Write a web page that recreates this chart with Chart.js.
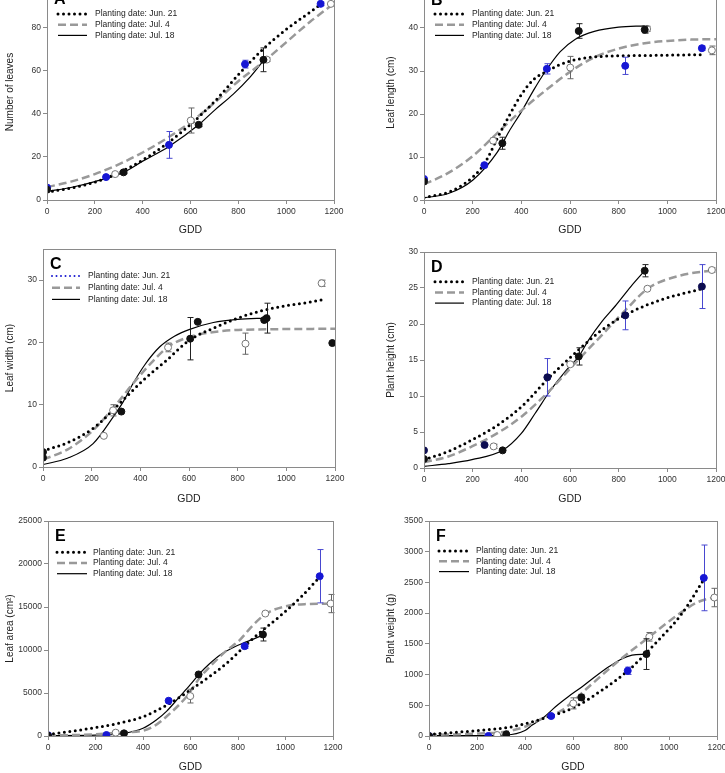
<!DOCTYPE html>
<html>
<head>
<meta charset="utf-8">
<script src="https://cdn.jsdelivr.net/npm/chart.js@4.4.1/dist/chart.umd.min.js"></script>
<style>
  html, body { margin: 0; padding: 0; background: #fff; }
  body { width: 725px; height: 773px; position: relative; overflow: hidden; }
  canvas { position: absolute; }
</style>
</head>
<body>
<script>
// legend text and x axis
const plantingDates = ['Planting date: Jun. 21', 'Planting date: Jul. 4', 'Planting date: Jul. 18'];
const gddTicks = [0, 200, 400, 600, 800, 1000, 1200];

// measured points: [GDD, mean, error]
// A - number of leaves
const leavesJun21 = [[0, 5.8, 0], [247, 10.6, 0.6], [510, 25.5, 6.2], [828, 62.9, 1.8], [1144, 90.8, 0.8]];
const leavesJul4 = [[0, 5.5, 0], [285, 12, 0.5], [601, 36.8, 5.8], [919, 65, 0.8], [1187, 90.8, 0.8]];
const leavesJul18 = [[0, 4.8, 0], [320, 12.8, 0.6], [634, 34.8, 0.8], [905, 64.9, 5.5]];
const leavesFitJun21 = [[0, 3.7], [100, 5.5], [200, 8.3], [300, 12.6], [400, 18.5], [500, 26], [600, 35], [700, 45.5], [800, 58], [900, 69.5], [1000, 79], [1100, 87], [1144, 90.6]];
const leavesFitJul4 = [[0, 6], [100, 8.5], [200, 12], [300, 16.5], [400, 22], [500, 28.5], [600, 36], [700, 45], [800, 55], [900, 63.5], [1000, 73], [1100, 82.5], [1200, 91]];
const leavesFitJul18 = [[0, 4], [100, 5.8], [200, 8.5], [320, 12.8], [400, 18], [510, 24.8], [634, 34.8], [700, 41.5], [779, 49], [850, 57], [905, 64.5]];

// B - leaf length
const lengthJun21 = [[0, 4.9, 0], [248, 8.1, 0.4], [505, 30.5, 1.2], [827, 31.2, 2], [1142, 35.3, 0.5]];
const lengthJul4 = [[0, 4.5, 0], [284, 13.8, 0.6], [601, 30.8, 2.6], [917, 39.8, 0.6], [1183, 34.8, 1]];
const lengthJul18 = [[0, 4.3, 0], [322, 13.2, 1.4], [636, 39.3, 1.7], [907, 39.6, 0.8]];
const lengthFitJun21 = [[0, 0.6], [100, 1.8], [150, 3.2], [200, 5.3], [250, 8.6], [300, 14.2], [350, 19.6], [400, 24.5], [450, 28], [500, 29.8], [560, 31.5], [620, 32.6], [730, 33.4], [900, 33.6], [1136, 33.8]];
const lengthFitJul4 = [[0, 3.6], [100, 6.3], [200, 10.2], [300, 15.5], [400, 20.8], [500, 25.5], [600, 29.8], [700, 33.2], [800, 35.2], [900, 36.4], [1000, 37], [1100, 37.3], [1200, 37.4]];
const lengthFitJul18 = [[0, 0.5], [100, 1.5], [200, 4.6], [300, 11], [350, 16], [400, 20.5], [450, 25.5], [500, 30], [560, 34.5], [622, 37.4], [700, 39.2], [800, 40.2], [907, 40.5]];

// C - leaf width
const widthJun21 = [[250, 5.0, 0], [288, 9.1, 0.9], [514, 19.2, 0.7], [832, 19.8, 1.7], [1145, 29.5, 0.5]];
const widthJul4 = [[0, 2.4, 0], [605, 20.6, 3.4], [919, 23.9, 2.4], [1189, 19.9, 0]];
const widthJul18 = [[0, 1.5, 0], [322, 8.9, 0], [636, 23.3, 0], [909, 23.6, 0]];
const widthFitJun21 = [[0, 2.6], [100, 3.9], [206, 6.2], [315, 10.2], [411, 13.9], [507, 17.1], [603, 20.4], [713, 22.5], [800, 23.9], [900, 25.1], [1000, 25.9], [1100, 26.5], [1152, 26.9]];
const widthFitJul4 = [[0, 1.2], [100, 2.8], [206, 5.9], [300, 10], [370, 13.4], [440, 16.5], [514, 19.3], [580, 20.6], [645, 21.3], [754, 21.9], [919, 22.1], [1200, 22.2]];
const widthFitJul18 = [[0, 0.4], [100, 1.4], [206, 3.75], [288, 8], [330, 10.5], [370, 13.4], [420, 16.5], [480, 19.3], [540, 21], [603, 22.1], [700, 23.2], [800, 23.7], [919, 23.9]];

// D - plant height
const heightJun21 = [[0, 2.45, 0], [249, 3.2, 0], [507, 12.6, 2.6], [827, 21.2, 2], [1142, 25.2, 3.05]];
const heightJul4 = [[286, 3.0, 0.3], [601, 14.4, 0], [918, 24.9, 0], [1183, 27.5, 0.3]];
const heightJul18 = [[0, 1.25, 0], [323, 2.45, 0], [636, 15.5, 1.2], [907, 27.4, 0.85]];
const heightFitJun21 = [[0, 1.15], [100, 2.3], [197, 3.9], [300, 5.9], [403, 8.6], [512, 12.5], [622, 16], [732, 19.2], [841, 21.5], [978, 23.4], [1142, 24.9]];
const heightFitJul4 = [[0, 0.8], [100, 1.6], [197, 3], [300, 4.8], [403, 7.2], [512, 10.6], [622, 14.6], [732, 18.5], [830, 22], [923, 25], [1050, 26.7], [1197, 27.5]];
const heightFitJul18 = [[0, 0.23], [100, 0.6], [197, 1.16], [323, 2.45], [400, 4.8], [457, 7.6], [520, 10.8], [580, 13.4], [636, 15.5], [677, 17.8], [730, 20.3], [786, 22.5], [850, 25.2], [907, 27.4]];

// E - leaf area
const areaJun21 = [[0, 100, 0], [246, 116, 0], [508, 4100, 0], [828, 10450, 250], [1144, 18580, 3100]];
const areaJul4 = [[285, 387, 0], [599, 4640, 800], [915, 14240, 0], [1190, 15400, 1060]];
const areaJul18 = [[0, 40, 0], [320, 310, 0], [634, 7160, 0], [905, 11800, 750]];
const areaFitJun21 = [[0, 190], [100, 550], [204, 1000], [300, 1500], [400, 2240], [512, 3790], [639, 6110], [751, 8440], [863, 11340], [989, 14240], [1070, 16300], [1144, 18500]];
const areaFitJul4 = [[0, 40], [200, 200], [300, 400], [400, 620], [450, 1200], [498, 2240], [583, 4570], [640, 6800], [695, 8440], [750, 9900], [807, 11150], [860, 12800], [919, 14240], [1017, 15170], [1100, 15350], [1200, 15400]];
const areaFitJul18 = [[0, 40], [200, 100], [320, 310], [400, 900], [456, 1860], [500, 2900], [554, 4570], [600, 6000], [639, 7280], [680, 8400], [723, 9400], [780, 10300], [835, 10950], [905, 11730]];

// F - plant weight
const weightJun21 = [[0, 0, 0], [247, 0, 0], [509, 325, 20], [828, 1062, 60], [1145, 2574, 535]];
const weightJul4 = [[284, 16, 0], [601, 531, 90], [918, 1615, 70], [1189, 2254, 150]];
const weightJul18 = [[0, 0, 0], [322, 27, 0], [635, 628, 50], [906, 1333, 250]];
const weightFitJun21 = [[0, 27], [194, 87], [347, 152], [499, 314], [610, 477], [721, 748], [832, 1073], [943, 1506], [1054, 1994], [1145, 2547]];
const weightFitJul4 = [[0, 16], [200, 40], [319, 70], [400, 150], [458, 260], [555, 423], [666, 802], [777, 1181], [918, 1615], [1054, 2021], [1120, 2180], [1193, 2265]];
const weightFitJul18 = [[0, 5], [200, 8], [322, 16], [400, 90], [430, 179], [480, 310], [527, 477], [580, 640], [638, 802], [690, 960], [749, 1127], [800, 1250], [846, 1317], [906, 1333]];

const FONT = "'Liberation Sans', Arial, sans-serif";
Chart.defaults.font.family = FONT;
Chart.defaults.color = '#333';

// marker looks
const MK = {
  blue:  { fill: '#1616d4', edge: '#1616d4', err: '#4848d0' },
  navy:  { fill: '#0c0c50', edge: '#0c0c50', err: '#4848d0' },
  black: { fill: '#111', edge: '#111', err: '#222' },
  open:  { fill: '#fff', edge: '#777', err: '#666' }
};
// fit line looks: Jun 21 dotted, Jul 4 dashed, Jul 18 solid
const LN = [
  { color: '#000', width: 3, dash: [0, 5.5], cap: 'round' },
  { color: '#999', width: 2.5, dash: [8, 4], cap: 'butt' },
  { color: '#000', width: 1.2, dash: [], cap: 'butt' }
];

const panels = [
  { letter: 'A', yTitle: 'Number of leaves', yMax: 100, yStep: 20, area: { l: 47, t: -16, r: 334, b: 200 }, cx: 0, hx: 40,
    legend: { x0: 11, x1: 40, tx: 48, y0: 30, dy: 10.7 }, dotLegend: '#000',
    series: [leavesJun21, leavesJul4, leavesJul18], fits: [leavesFitJun21, leavesFitJul4, leavesFitJul18], marks: [MK.blue, MK.open, MK.black] },
  { letter: 'B', yTitle: 'Leaf length (cm)', yMax: 50, yStep: 10, area: { l: 424, t: -15, r: 716, b: 200 }, cx: 381, hx: 40,
    legend: { x0: 11, x1: 40, tx: 48, y0: 29, dy: 10.7 }, dotLegend: '#000',
    series: [lengthJun21, lengthJul4, lengthJul18], fits: [lengthFitJun21, lengthFitJul4, lengthFitJul18], marks: [MK.blue, MK.open, MK.black] },
  { letter: 'C', yTitle: 'Leaf width (cm)', yMax: 35, yStep: 10, area: { l: 43, t: 249, r: 335, b: 467 }, cx: 0, hx: 42,
    legend: { x0: 9, x1: 37, tx: 45, y0: 27, dy: 11.7 }, dotLegend: '#1a1ad0',
    series: [widthJun21, widthJul4, widthJul18], fits: [widthFitJun21, widthFitJul4, widthFitJul18], marks: [MK.open, MK.black, MK.black] },
  { letter: 'D', yTitle: 'Plant height (cm)', yMax: 30, yStep: 5, area: { l: 424, t: 252, r: 716, b: 468 }, cx: 381, hx: 41,
    legend: { x0: 11, x1: 40, tx: 48, y0: 29.7, dy: 10.7 }, dotLegend: '#000',
    series: [heightJun21, heightJul4, heightJul18], fits: [heightFitJun21, heightFitJul4, heightFitJul18], marks: [MK.navy, MK.open, MK.black] },
  { letter: 'E', yTitle: 'Leaf area (cm²)', yMax: 25000, yStep: 5000, area: { l: 48, t: 521, r: 333, b: 736 }, cx: 0, hx: 41,
    legend: { x0: 9, x1: 39, tx: 45, y0: 31.3, dy: 10.7 }, dotLegend: '#000',
    series: [areaJun21, areaJul4, areaJul18], fits: [areaFitJun21, areaFitJul4, areaFitJul18], marks: [MK.blue, MK.open, MK.black] },
  { letter: 'F', yTitle: 'Plant weight (g)', yMax: 3500, yStep: 500, area: { l: 429, t: 521, r: 717, b: 736 }, cx: 381, hx: 41,
    legend: { x0: 10, x1: 40, tx: 47, y0: 30, dy: 10.3 }, dotLegend: '#000',
    series: [weightJun21, weightJul4, weightJul18], fits: [weightFitJun21, weightFitJul4, weightFitJul18], marks: [MK.blue, MK.open, MK.black] }
];

// error bars drawn just before their marker dataset
const errorBars = {
  id: 'errorBars',
  beforeDatasetDraw(chart, args) {
    const ds = chart.data.datasets[args.index];
    if (!ds.errColor) return;
    const xs = chart.scales.x, ys = chart.scales.y, ctx = chart.ctx;
    ctx.save();
    ctx.strokeStyle = ds.errColor;
    ctx.lineWidth = 1;
    ds.data.forEach(p => {
      if (!p.e) return;
      const px = Math.round(xs.getPixelForValue(p.x)) + 0.5;
      const top = ys.getPixelForValue(p.y + p.e);
      const bot = ys.getPixelForValue(p.y - p.e);
      ctx.beginPath();
      ctx.moveTo(px, top); ctx.lineTo(px, bot);
      ctx.moveTo(px - 3, top); ctx.lineTo(px + 3, top);
      ctx.moveTo(px - 3, bot); ctx.lineTo(px + 3, bot);
      ctx.stroke();
    });
    ctx.restore();
  }
};

// frame, panel letter and legend
const decorations = {
  id: 'decorations',
  afterDraw(chart) {
    const o = chart.options.plugins.decorations;
    const a = chart.chartArea, ctx = chart.ctx;
    ctx.save();
    ctx.strokeStyle = '#8a8a8a';
    ctx.lineWidth = 1;
    ctx.strokeRect(Math.round(a.left) + 0.5, Math.round(a.top) + 0.5, Math.round(a.right - a.left), Math.round(a.bottom - a.top));

    ctx.fillStyle = '#000';
    ctx.font = 'bold 16px ' + FONT;
    ctx.textBaseline = 'alphabetic';
    ctx.fillText(o.letter, a.left + 7, a.top + 19.5);

    const lg = o.legend;
    plantingDates.forEach((txt, i) => {
      const st = LN[i];
      const y = a.top + lg.y0 + i * lg.dy;
      ctx.beginPath();
      ctx.strokeStyle = i === 0 ? o.dotLegend : st.color;
      ctx.lineWidth = (i === 0 && o.dotLegend !== '#000') ? 2 : st.width;
      ctx.setLineDash(i === 0 && o.dotLegend !== '#000' ? [0, 4.5] : st.dash);
      ctx.lineCap = st.cap;
      ctx.moveTo(a.left + lg.x0, y);
      ctx.lineTo(a.left + lg.x1, y);
      ctx.stroke();
      ctx.setLineDash([]);
      ctx.fillStyle = '#222';
      ctx.font = '8.5px ' + FONT;
      ctx.textBaseline = 'middle';
      ctx.fillText(txt, a.left + lg.tx, y);
    });
    ctx.restore();
  }
};

panels.forEach(p => {
  const cv = document.createElement('canvas');
  const width = p.cx === 0 ? 362 : p.area.r + 20 - p.cx;
  const height = p.area.b - p.area.t + 10 + p.hx;
  cv.width = width;
  cv.height = height;
  cv.style.left = p.cx + 'px';
  cv.style.top = (p.area.t - 10) + 'px';
  document.body.appendChild(cv);

  const order = [2, 0, 1]; // filled markers on top
  const datasets = order.map(i => ({
    label: plantingDates[i],
    data: p.series[i].map(d => ({ x: d[0], y: d[1], e: d[2] })),
    showLine: false,
    pointRadius: 3.5,
    pointHoverRadius: 3.5,
    pointBackgroundColor: p.marks[i].fill,
    pointBorderColor: p.marks[i].edge,
    pointBorderWidth: 1,
    errColor: p.marks[i].err
  }));
  p.fits.forEach((f, i) => {
    datasets.push({
      label: plantingDates[i] + ' fit',
      data: f.map(d => ({ x: d[0], y: d[1] })),
      showLine: true,
      pointRadius: 0,
      pointHoverRadius: 0,
      borderColor: LN[i].color,
      borderWidth: LN[i].width,
      borderDash: LN[i].dash,
      borderCapStyle: LN[i].cap,
      cubicInterpolationMode: 'monotone',
      fill: false
    });
  });

  const axisGray = '#8a8a8a';
  new Chart(cv, {
    type: 'scatter',
    data: { datasets },
    options: {
      responsive: false,
      animation: false,
      events: [],
      layout: { padding: { top: 10, left: 0, bottom: 0, right: p.cx + width - p.area.r } },
      scales: {
        x: {
          type: 'linear', min: gddTicks[0], max: gddTicks[gddTicks.length - 1],
          afterBuildTicks: s => { s.ticks = gddTicks.map(v => ({ value: v })); },
          afterFit: s => { s.height = p.hx; },
          border: { display: false },
          grid: { drawOnChartArea: false, drawTicks: true, tickLength: 4, color: axisGray },
          ticks: { padding: 3, font: { size: 8.5 }, color: '#333', maxRotation: 0, callback: v => String(v) },
          title: { display: true, text: 'GDD', font: { size: 10.5 }, color: '#222' }
        },
        y: {
          min: 0, max: p.yMax,
          afterFit: s => { s.width = p.area.l - p.cx; },
          border: { display: false },
          grid: { drawOnChartArea: false, drawTicks: true, tickLength: 4, color: axisGray },
          ticks: { stepSize: p.yStep, includeBounds: false, padding: 2, font: { size: 8.5 }, color: '#333', callback: v => String(v) },
          title: { display: true, text: p.yTitle, font: { size: 10 }, color: '#222' }
        }
      },
      plugins: {
        legend: { display: false },
        tooltip: { enabled: false },
        decorations: { letter: p.letter, legend: p.legend, dotLegend: p.dotLegend }
      }
    },
    plugins: [errorBars, decorations]
  });
});
</script>
</body>
</html>
